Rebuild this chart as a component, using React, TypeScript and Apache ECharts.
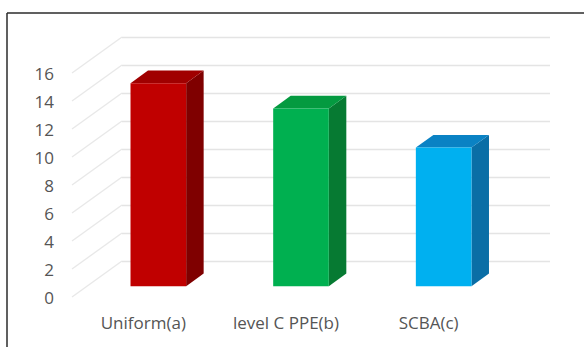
import React, { useEffect, useRef } from "react";
import * as echarts from "echarts";

const categories = ["Uniform(a)", "level C PPE(b)", "SCBA(c)"];
const values = [14.5, 12.7, 9.9];
const frontColors = ["#c00000", "#00b050", "#00b0f0"];
const topColors = ["#a00000", "#049a40", "#0a82c4"];
const sideColors = ["#7f0000", "#067a32", "#0a6ea6"];
const yTicks = [0, 2, 4, 6, 8, 10, 12, 14, 16];

// 3D depth vector of the floor (px)
const DX = 50;
const DY = -36;
const BAR_START = 0.3;
const BAR_DEPTH = 0.35;
const BAR_WIDTH = 0.39;

export default function App() {
  const ref = useRef<HTMLDivElement>(null);
  useEffect(() => {
    const chart = echarts.init(ref.current!, null, { renderer: "svg" });
    const font = "Open Sans";
    const option: any = {
      animation: false,
      backgroundColor: "#ffffff",
      grid: [
        { left: 72, width: 428, top: 73, height: 224 },
        { left: 72 + DX, width: 428, top: 73 + DY, height: 224 },
      ],
      xAxis: [
        {
          type: "category",
          gridIndex: 0,
          data: categories,
          axisLine: { show: false },
          axisTick: { show: false },
          axisLabel: { color: "#555555", fontSize: 17, fontFamily: font, margin: 17 },
        },
        {
          type: "category",
          gridIndex: 1,
          data: categories,
          show: false,
        },
      ],
      yAxis: [
        {
          type: "value",
          gridIndex: 0,
          min: 0,
          max: 16,
          interval: 2,
          axisLine: { show: false },
          axisTick: { show: false },
          splitLine: { show: false },
          axisLabel: { color: "#555555", fontSize: 17, fontFamily: font, margin: 18 },
        },
        {
          type: "value",
          gridIndex: 1,
          min: 0,
          max: 16,
          interval: 2,
          axisLine: { show: false },
          axisTick: { show: false },
          axisLabel: { show: false },
          splitLine: { show: true, lineStyle: { color: "#e4e4e4", width: 1.3 } },
        },
      ],
      series: [
        {
          type: "custom",
          xAxisIndex: 0,
          yAxisIndex: 0,
          data: yTicks.map((v) => [0, v]),
          silent: true,
          z: 1,
          renderItem: (params: any, api: any) => {
            const p = api.coord([0, api.value(1)]);
            const x0 = params.coordSys.x;
            return {
              type: "line",
              shape: { x1: x0, y1: p[1], x2: x0 + DX, y2: p[1] + DY },
              style: { stroke: "#e8e8e8", lineWidth: 1.3 },
            };
          },
        },
        {
          type: "custom",
          xAxisIndex: 0,
          yAxisIndex: 0,
          data: values.map((v, i) => [i, v]),
          z: 5,
          renderItem: (params: any, api: any) => {
            const i = api.value(0);
            const top = api.coord([i, api.value(1)]);
            const bot = api.coord([i, 0]);
            const bw = api.size([1, 0])[0] * BAR_WIDTH;
            const sx = DX * BAR_START;
            const sy = DY * BAR_START;
            const ddx = DX * BAR_DEPTH;
            const ddy = DY * BAR_DEPTH;
            const x0 = top[0] - bw / 2 + sx;
            const x1 = top[0] + bw / 2 + sx;
            const yT = top[1] + sy;
            const yB = bot[1] + sy;
            return {
              type: "group",
              children: [
                {
                  type: "polygon",
                  shape: { points: [[x1, yT], [x1 + ddx, yT + ddy], [x1 + ddx, yB + ddy], [x1, yB]] },
                  style: { fill: sideColors[i] },
                },
                {
                  type: "polygon",
                  shape: { points: [[x0, yT], [x0 + ddx, yT + ddy], [x1 + ddx, yT + ddy], [x1, yT]] },
                  style: { fill: topColors[i] },
                },
                {
                  type: "rect",
                  shape: { x: x0, y: yT, width: x1 - x0, height: yB - yT },
                  style: { fill: frontColors[i] },
                },
              ],
            };
          },
        },
      ],
      graphic: [
        { type: "line", shape: { x1: 7, y1: 13, x2: 584, y2: 13 }, style: { stroke: "#2b2b2b", lineWidth: 1.5 } },
        { type: "line", shape: { x1: 7, y1: 13, x2: 7, y2: 347 }, style: { stroke: "#2b2b2b", lineWidth: 1.5 } },
      ],
    };
    chart.setOption(option);
    return () => chart.dispose();
  }, []);
  return (
    <div
      ref={ref}
      style={{ position: "fixed", left: 0, top: 0, width: 584, height: 347 }}
    />
  );
}
